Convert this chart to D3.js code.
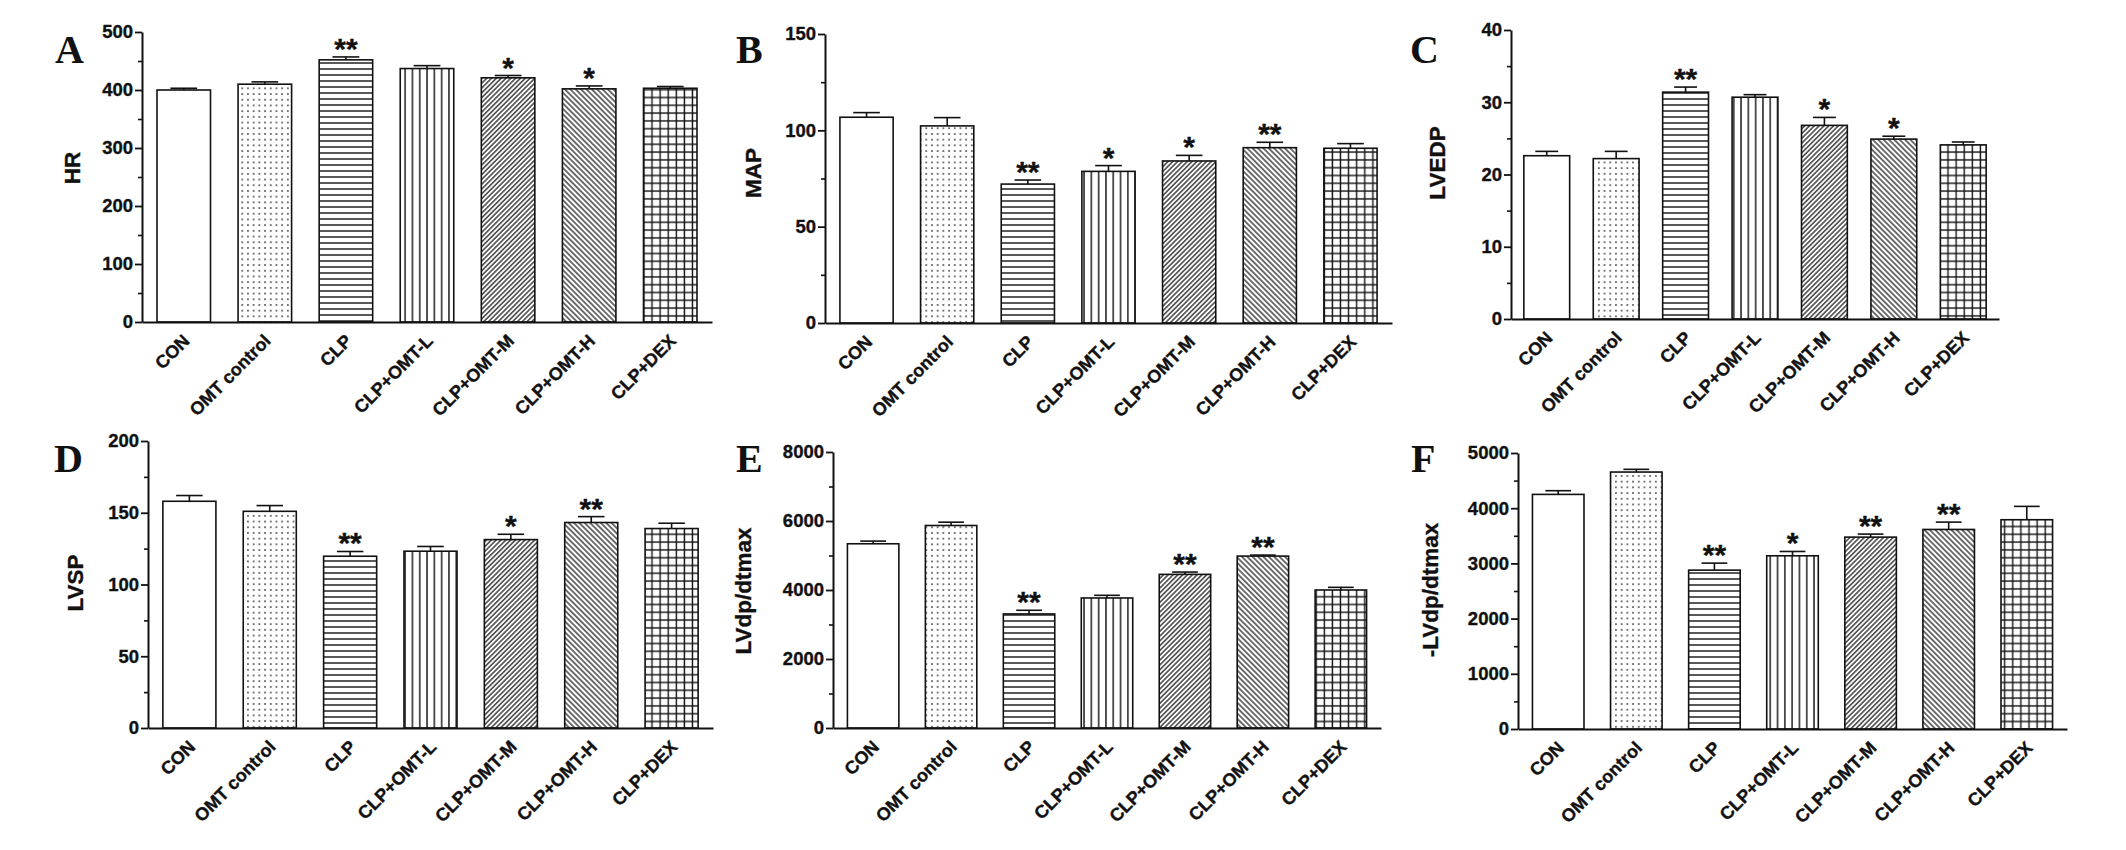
<!DOCTYPE html>
<html>
<head>
<meta charset="utf-8">
<script src="https://cdn.jsdelivr.net/npm/d3@7/dist/d3.min.js"></script>
<style>
  body { margin: 0; background: #fff; }
  svg { display: block; }
</style>
</head>
<body>
<svg id="chart" width="2126" height="850"></svg>
<script>
// groups and their bar fill patterns
const groups = ["CON", "OMT control", "CLP", "CLP+OMT-L", "CLP+OMT-M", "CLP+OMT-H", "CLP+DEX"];
const fills = ["plain", "dots", "hlines", "vlines", "fdiag", "bdiag", "grid"];

// values (mean, SEM, significance)
const hrMean = [400, 410, 452, 437, 421, 402, 403];
const hrErr = [3, 4, 5, 5, 4, 5, 3];
const hrSig = ["", "", "**", "", "*", "*", ""];

const mapMean = [106.8, 102.3, 72.1, 78.7, 84.1, 91.0, 90.7];
const mapErr = [2.4, 4.3, 2.1, 3.0, 2.9, 2.8, 2.4];
const mapSig = ["", "", "**", "*", "*", "**", ""];

const lvedpMean = [22.6, 22.2, 31.4, 30.7, 26.8, 24.9, 24.1];
const lvedpErr = [0.6, 1.0, 0.7, 0.35, 1.1, 0.4, 0.4];
const lvedpSig = ["", "", "**", "", "*", "*", ""];

const lvspMean = [158.0, 151.0, 119.7, 123.2, 131.3, 143.2, 139.0];
const lvspErr = [4.0, 4.0, 3.3, 3.3, 3.7, 4.1, 3.7];
const lvspSig = ["", "", "**", "", "*", "**", ""];

const dpMaxMean = [5340, 5870, 3306, 3769, 4453, 4983, 4000];
const dpMaxErr = [77, 96, 106, 77, 67, 29, 77];
const dpMaxSig = ["", "", "**", "", "**", "**", ""];

const dpMinMean = [4250, 4655, 2878, 3138, 3476, 3615, 3791];
const dpMinErr = [67, 49, 127, 78, 55, 133, 242];
const dpMinSig = ["", "", "**", "*", "**", "**", ""];

// y axis settings: [max, major step, minor step]
const hrAxis = [500, 100, 50];
const mapAxis = [150, 50, 25];
const lvedpAxis = [40, 10, 5];
const lvspAxis = [200, 50, 25];
const dpMaxAxis = [8000, 2000, 1000];
const dpMinAxis = [5000, 1000, 500];

const panels = [
    { letter: "A", title: "HR", mean: hrMean, err: hrErr, sig: hrSig, axis: hrAxis,
      left: 142, right: 712, top: 32, bottom: 322, lx: 55, ly: 63, tx: 72, ty: 168 },
    { letter: "B", title: "MAP", mean: mapMean, err: mapErr, sig: mapSig, axis: mapAxis,
      left: 825, right: 1392, top: 34, bottom: 323, lx: 736, ly: 63, tx: 753, ty: 173 },
    { letter: "C", title: "LVEDP", mean: lvedpMean, err: lvedpErr, sig: lvedpSig, axis: lvedpAxis,
      left: 1511, right: 1999, top: 30, bottom: 319, lx: 1410, ly: 63, tx: 1437, ty: 163 },
    { letter: "D", title: "LVSP", mean: lvspMean, err: lvspErr, sig: lvspSig, axis: lvspAxis,
      left: 148, right: 713, top: 441, bottom: 728, lx: 54, ly: 472, tx: 75, ty: 583 },
    { letter: "E", title: "LVdp/dtmax", mean: dpMaxMean, err: dpMaxErr, sig: dpMaxSig, axis: dpMaxAxis,
      left: 833, right: 1381, top: 452, bottom: 728, lx: 736, ly: 472, tx: 743, ty: 591 },
    { letter: "F", title: "-LVdp/dtmax", mean: dpMinMean, err: dpMinErr, sig: dpMinSig, axis: dpMinAxis,
      left: 1518, right: 2067, top: 453, bottom: 729, lx: 1411, ly: 472, tx: 1430, ty: 590 }
];

const sans = "'Liberation Sans', Arial, Helvetica, sans-serif";
const serif = "'Liberation Serif', 'Times New Roman', serif";
const ink = "#111";

const svg = d3.select("#chart");
svg.append("rect").attr("width", 2126).attr("height", 850).attr("fill", "#fff");

// Hatch patterns
const defs = svg.append("defs");
function pattern(id, w, h, transform) {
    const p = defs.append("pattern")
        .attr("id", id)
        .attr("patternUnits", "userSpaceOnUse")
        .attr("width", w)
        .attr("height", h);
    if (transform) p.attr("patternTransform", transform);
    p.append("rect").attr("width", w).attr("height", h).attr("fill", "#fff");
    return p;
}
pattern("dots", 5.7, 5.7).append("rect")
    .attr("x", 2.1).attr("y", 2.1).attr("width", 1.5).attr("height", 1.5).attr("fill", "#222");
pattern("hlines", 10, 6).append("line")
    .attr("x1", 0).attr("x2", 10).attr("y1", 3).attr("y2", 3)
    .attr("stroke", ink).attr("stroke-width", 1.4);
pattern("vlines", 7.3, 10).append("line")
    .attr("x1", 3.65).attr("x2", 3.65).attr("y1", 0).attr("y2", 10)
    .attr("stroke", ink).attr("stroke-width", 1.4);
pattern("fdiag", 3.4, 10, "rotate(45)").append("line")
    .attr("x1", 1.7).attr("x2", 1.7).attr("y1", 0).attr("y2", 10)
    .attr("stroke", ink).attr("stroke-width", 1.2);
pattern("bdiag", 3.8, 10, "rotate(-45)").append("line")
    .attr("x1", 1.9).attr("x2", 1.9).attr("y1", 0).attr("y2", 10)
    .attr("stroke", ink).attr("stroke-width", 1.2);
const grid = pattern("grid", 8.1, 7.8);
grid.append("line").attr("x1", 4).attr("x2", 4).attr("y1", 0).attr("y2", 7.8)
    .attr("stroke", ink).attr("stroke-width", 1.4);
grid.append("line").attr("x1", 0).attr("x2", 8.1).attr("y1", 3.9).attr("y2", 3.9)
    .attr("stroke", ink).attr("stroke-width", 1.4);

function fillFor(i) {
    return fills[i] === "plain" ? "#fff" : `url(#${fills[i]})`;
}

// bold text with a hairline stroke so it reads as heavy as the scan
function heavy(sel, size) {
    return sel.attr("font-family", sans)
        .attr("font-weight", "bold")
        .attr("font-size", size)
        .attr("fill", ink)
        .attr("stroke", ink)
        .attr("stroke-width", 0.35);
}

panels.forEach(p => {
    const [yMax, major, minor] = p.axis;
    const g = svg.append("g");

    const x = d3.scaleBand()
        .domain(groups)
        .range([p.left, p.right])
        .paddingInner(0.34)
        .paddingOuter(0.185);

    const y = d3.scaleLinear()
        .domain([0, yMax])
        .range([p.bottom, p.top]);

    const rows = groups.map((name, i) => ({ name, i, mean: p.mean[i], err: p.err[i], sig: p.sig[i] }));
    const bw = x.bandwidth();

    // Bars
    g.selectAll("rect.bar")
        .data(rows)
        .enter()
        .append("rect")
        .attr("class", "bar")
        .attr("x", d => x(d.name))
        .attr("y", d => y(d.mean))
        .attr("width", bw)
        .attr("height", d => y(0) - y(d.mean))
        .attr("fill", d => fillFor(d.i))
        .attr("stroke", ink)
        .attr("stroke-width", 1.6);

    // Error bars (upper only)
    g.selectAll("line.stem")
        .data(rows)
        .enter()
        .append("line")
        .attr("x1", d => x(d.name) + bw / 2)
        .attr("x2", d => x(d.name) + bw / 2)
        .attr("y1", d => y(d.mean))
        .attr("y2", d => y(d.mean + d.err))
        .attr("stroke", ink)
        .attr("stroke-width", 1.6);

    g.selectAll("line.cap")
        .data(rows)
        .enter()
        .append("line")
        .attr("x1", d => x(d.name) + bw * 0.25)
        .attr("x2", d => x(d.name) + bw * 0.75)
        .attr("y1", d => y(d.mean + d.err))
        .attr("y2", d => y(d.mean + d.err))
        .attr("stroke", ink)
        .attr("stroke-width", 1.6);

    // Significance stars
    heavy(g.selectAll("text.sig")
        .data(rows.filter(d => d.sig))
        .enter()
        .append("text")
        .attr("x", d => x(d.name) + bw / 2)
        .attr("y", d => y(d.mean + d.err) + 2)
        .attr("text-anchor", "middle"), 30)
        .text(d => d.sig);

    // Y axis, minor ticks first
    g.append("g")
        .attr("transform", `translate(${p.left},0)`)
        .call(d3.axisLeft(y).tickValues(d3.range(minor, yMax, major)).tickSize(4).tickFormat(""))
        .call(a => a.select(".domain").remove())
        .selectAll("line").attr("stroke", ink).attr("stroke-width", 1.6);

    const yAxis = g.append("g")
        .attr("transform", `translate(${p.left},0)`)
        .call(d3.axisLeft(y)
            .tickValues(d3.range(0, yMax + 1, major))
            .tickFormat(d3.format("d"))
            .tickSize(7).tickSizeOuter(0).tickPadding(2));
    yAxis.select(".domain").attr("stroke", ink).attr("stroke-width", 2);
    yAxis.selectAll("line").attr("stroke", ink).attr("stroke-width", 1.8);
    heavy(yAxis.selectAll("text"), 18.5);

    // X axis with rotated group names
    const xAxis = g.append("g")
        .attr("transform", `translate(0,${p.bottom})`)
        .call(d3.axisBottom(x).tickSize(0).tickSizeOuter(0));
    xAxis.select(".domain").attr("stroke", ink).attr("stroke-width", 2);
    heavy(xAxis.selectAll("text")
        .attr("x", 0)
        .attr("y", 0)
        .attr("dy", 0)
        .attr("transform", "translate(7,20) rotate(-45)")
        .attr("text-anchor", "end"), 18);

    // Y title
    heavy(g.append("text")
        .attr("transform", `translate(${p.tx},${p.ty}) rotate(-90)`)
        .attr("dy", "0.35em")
        .attr("text-anchor", "middle"), 22.5)
        .text(p.title);

    // Panel letter
    g.append("text")
        .attr("x", p.lx)
        .attr("y", p.ly)
        .attr("font-family", serif)
        .attr("font-weight", "bold")
        .attr("font-size", 40)
        .attr("fill", ink)
        .text(p.letter);
});
</script>
</body>
</html>
